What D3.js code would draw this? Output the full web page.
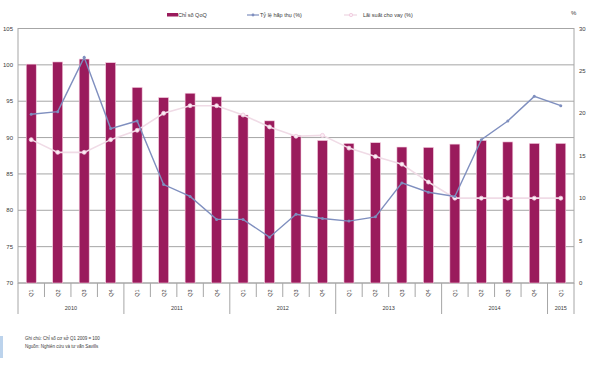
<!DOCTYPE html>
<html lang="vi">
<head>
<meta charset="UTF-8">
<title>Chỉ số QoQ</title>
<script src="https://cdnjs.cloudflare.com/ajax/libs/d3/7.8.0/d3.min.js"></script>
<style>
  body { margin: 0; background: #fff; }
  svg text { font-family: "Liberation Sans", Arial, sans-serif; fill: #3a3a3a; }
</style>
</head>
<body>
<svg id="viz" width="594" height="370"></svg>
<script>
// data
const years = ["2010", "2011", "2012", "2013", "2014", "2015"];
const quarters = ["Q1","Q2","Q3","Q4","Q1","Q2","Q3","Q4","Q1","Q2","Q3","Q4",
                  "Q1","Q2","Q3","Q4","Q1","Q2","Q3","Q4","Q1"];
const yearOf = [0,0,0,0,1,1,1,1,2,2,2,2,3,3,3,3,4,4,4,4,5];
const chiSo = [100.1,100.4,100.8,100.3,96.9,95.5,96.1,95.6,93.1,92.3,90.3,89.6,
               89.2,89.3,88.7,88.65,89.1,89.6,89.4,89.2,89.2];
const tyLe = [19.9,20.2,26.6,18.2,19.1,11.6,10.2,7.5,7.5,5.4,8.1,7.6,
              7.3,7.8,11.8,10.7,10.2,16.9,19.1,22.0,20.9];
const laiSuat = [16.9,15.4,15.4,16.9,18.0,20.0,20.9,20.9,19.8,18.4,17.3,17.4,
                 15.9,14.9,14.0,11.9,10.0,10.0,10.0,10.0,10.0];
const leftTicks = [70,75,80,85,90,95,100,105];
const rightTicks = [0,5,10,15,20,25,30];

const svg = d3.select("#viz");
const pLeft = 18, pRight = 574, pTop = 28.5, pBottom = 283;

const idx = d3.range(quarters.length);
const x = d3.scaleBand().domain(idx).range([pLeft, pRight]);
const xc = i => x(i) + x.bandwidth() / 2;
const yL = d3.scaleLinear().domain([70, 105]).range([pBottom, pTop]);
const yR = d3.scaleLinear().domain([0, 30]).range([pBottom, pTop]);

const barColor = "#9a1b5c", blueColor = "#7f8fbf", pinkColor = "#f0dbe6", grid = "#a6a6a6";

// gridlines
svg.append("g").selectAll("line").data(leftTicks.slice(0, -1)).join("line")
  .attr("x1", pLeft).attr("x2", pRight)
  .attr("y1", d => yL(d)).attr("y2", d => yL(d))
  .attr("stroke", grid).attr("stroke-width", 1);

// plot frame
svg.append("rect").attr("x", pLeft).attr("y", yL(105)).attr("width", pRight - pLeft)
  .attr("height", pBottom - yL(105)).attr("fill", "none").attr("stroke", grid).attr("stroke-width", 1);

// bars
svg.append("g").selectAll("rect").data(chiSo).join("rect")
  .attr("x", (d, i) => xc(i) - 5)
  .attr("width", 10)
  .attr("y", d => yL(d))
  .attr("height", d => pBottom - yL(d))
  .attr("fill", barColor)
  .attr("stroke", "#f6cfe1").attr("stroke-width", 0.6);

// lines
function drawLine(vals, color, width, r, markerFill, markerStroke) {
  const line = d3.line().x((d, i) => xc(i)).y(d => yR(d));
  svg.append("path").datum(vals).attr("d", line)
    .attr("fill", "none").attr("stroke", color).attr("stroke-width", width);
  svg.append("g").selectAll("circle").data(vals).join("circle")
    .attr("cx", (d, i) => xc(i)).attr("cy", d => yR(d)).attr("r", r)
    .attr("fill", markerFill).attr("stroke", markerStroke).attr("stroke-width", 0.8);
}
drawLine(laiSuat, pinkColor, 1.6, 2, "#fbeef5", "#efc6dc");
drawLine(tyLe, blueColor, 1.4, 1.5, blueColor, "none");

// left axis labels
svg.append("g").selectAll("text").data(leftTicks).join("text")
  .attr("x", 13).attr("y", d => yL(d) + 2)
  .attr("text-anchor", "end").attr("font-size", 6).text(d => d);

// right axis labels
svg.append("g").selectAll("text").data(rightTicks).join("text")
  .attr("x", 579).attr("y", d => yR(d) + 2)
  .attr("font-size", 6).text(d => d);
svg.append("text").attr("x", 571).attr("y", 15).attr("font-size", 6).text("%");

// category axis
const tickG = svg.append("g");
tickG.selectAll("line.q").data(d3.range(1, quarters.length)).join("line")
  .attr("x1", i => x(i)).attr("x2", i => x(i))
  .attr("y1", pBottom)
  .attr("y2", i => yearOf[i] !== yearOf[i - 1] ? 314 : 297)
  .attr("stroke", grid).attr("stroke-width", 1);
[pLeft, pRight].forEach(xx => tickG.append("line")
  .attr("x1", xx).attr("x2", xx).attr("y1", pBottom).attr("y2", 314)
  .attr("stroke", grid).attr("stroke-width", 1));

svg.append("g").selectAll("text").data(quarters).join("text")
  .attr("transform", (d, i) => `translate(${xc(i) + 2},293) rotate(-90)`)
  .attr("text-anchor", "middle").attr("font-size", 5.5).text(d => d);

svg.append("g").selectAll("text").data(years).join("text")
  .attr("x", (d, k) => {
    const ids = idx.filter(i => yearOf[i] === k);
    return (xc(ids[0]) + xc(ids[ids.length - 1])) / 2;
  })
  .attr("y", 310).attr("text-anchor", "middle").attr("font-size", 5.5).text(d => d);

// legend
const lg = svg.append("g").attr("font-size", 5.5);
lg.append("rect").attr("x", 167).attr("y", 13).attr("width", 11).attr("height", 3.5).attr("fill", barColor);
lg.append("text").attr("x", 178).attr("y", 17).text("Chỉ số QoQ");
lg.append("line").attr("x1", 247).attr("x2", 259).attr("y1", 15).attr("y2", 15).attr("stroke", blueColor).attr("stroke-width", 1.2);
lg.append("circle").attr("cx", 253).attr("cy", 15).attr("r", 1.4).attr("fill", blueColor);
lg.append("text").attr("x", 260).attr("y", 17).text("Tỷ lệ hấp thụ (%)");
lg.append("line").attr("x1", 344).attr("x2", 357).attr("y1", 15).attr("y2", 15).attr("stroke", pinkColor).attr("stroke-width", 1.4);
lg.append("circle").attr("cx", 351).attr("cy", 15).attr("r", 1.7).attr("fill", "#fbeef5").attr("stroke", "#efc6dc").attr("stroke-width", 0.8);
lg.append("text").attr("x", 363).attr("y", 17).text("Lãi suất cho vay (%)");

// notes
svg.append("rect").attr("x", 0).attr("y", 336).attr("width", 3).attr("height", 22).attr("fill", "#bcd3ec");
const notes = svg.append("g").attr("font-size", 4.5);
notes.append("text").attr("x", 25).attr("y", 340).text("Ghi chú: Chỉ số cơ sở Q1 2009 = 100");
notes.append("text").attr("x", 25).attr("y", 348).text("Nguồn: Nghiên cứu và tư vấn Savills");
</script>
</body>
</html>
